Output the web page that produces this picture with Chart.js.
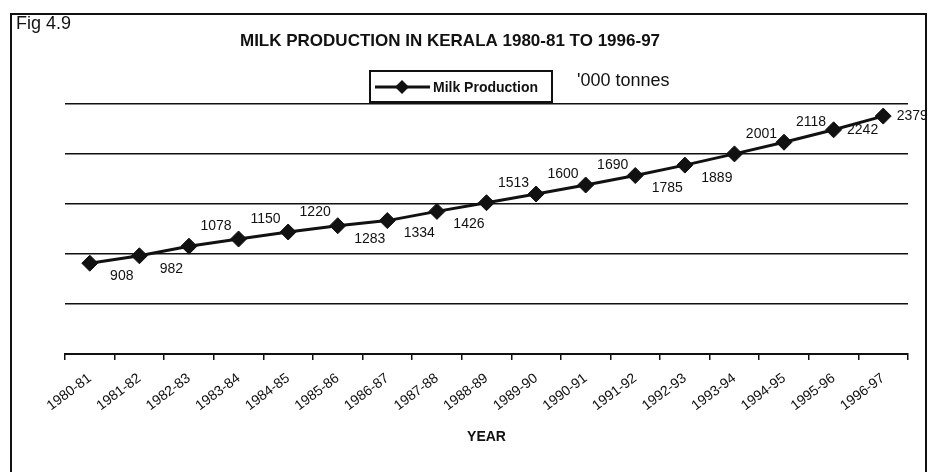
<!DOCTYPE html>
<html>
<head>
<meta charset="utf-8">
<script src="https://cdn.jsdelivr.net/npm/chart.js@4.4.1/dist/chart.umd.min.js"></script>
<style>
  html, body { margin: 0; padding: 0; background: #fff; }
  #wrap { position: relative; width: 928px; height: 472px; }
</style>
</head>
<body>
<div id="wrap"><canvas id="milk" aria-label="Milk production in Kerala chart" role="img"></canvas></div>
<script>
const YEARS = [
  '1980-81', '1981-82', '1982-83', '1983-84', '1984-85', '1985-86',
  '1986-87', '1987-88', '1988-89', '1989-90', '1990-91', '1991-92',
  '1992-93', '1993-94', '1994-95', '1995-96', '1996-97',
];
const MILK_PRODUCTION = [
  908, 982, 1078, 1150, 1220, 1283, 1334, 1426, 1513,
  1600, 1690, 1785, 1889, 2001, 2118, 2242, 2379,
];
const Y_TICKS = [0, 500, 1000, 1500, 2000, 2500];

// b = below, a = above, r = right of the marker
const LABEL_SIDE = ['b', 'b', 'a', 'a', 'a', 'b', 'b', 'b', 'a', 'a', 'a', 'b', 'b', 'a', 'a', 'r', 'r'];
const LABEL_OFFSET = { b: [32, 13], a: [27, -20], r: [29, 0] };

const FONT = "'Liberation Sans', Arial, sans-serif";
Chart.defaults.font.family = FONT;
Chart.defaults.color = '#111';

function diamond(ctx, x, y, r) {
  ctx.beginPath();
  ctx.moveTo(x - r, y);
  ctx.lineTo(x, y - r);
  ctx.lineTo(x + r, y);
  ctx.lineTo(x, y + r);
  ctx.closePath();
  ctx.fill();
}

// frame, figure number, title, legend box and unit note
const decorations = {
  id: 'decorations',
  beforeDraw(chart) {
    const { ctx } = chart;
    ctx.save();
    ctx.fillStyle = '#fff';
    ctx.fillRect(0, 0, chart.width, chart.height);
    ctx.strokeStyle = '#111';
    ctx.lineWidth = 2;
    ctx.strokeRect(11, 14, 915, 470);

    ctx.fillStyle = '#111';
    ctx.textBaseline = 'middle';
    ctx.font = `18px ${FONT}`;
    ctx.textAlign = 'left';
    ctx.fillText('Fig 4.9', 16, 24);

    ctx.font = `bold 17px ${FONT}`;
    ctx.textAlign = 'center';
    ctx.fillText('MILK PRODUCTION IN KERALA 1980-81 TO 1996-97', 450, 41);

    // legend
    ctx.lineWidth = 2;
    ctx.strokeRect(370, 71, 182, 31);
    ctx.lineWidth = 3;
    ctx.beginPath();
    ctx.moveTo(375, 87);
    ctx.lineTo(430, 87);
    ctx.stroke();
    diamond(ctx, 402, 87, 7);
    ctx.font = `bold 14px ${FONT}`;
    ctx.textAlign = 'left';
    ctx.fillText(chart.data.datasets[0].label, 433, 88);

    ctx.font = `18px ${FONT}`;
    ctx.fillText("'000 tonnes", 577, 81);
    ctx.restore();
  },
};

// value labels next to the markers
const valueLabels = {
  id: 'valueLabels',
  afterDatasetsDraw(chart) {
    const { ctx } = chart;
    const meta = chart.getDatasetMeta(0);
    ctx.save();
    ctx.font = `14px ${FONT}`;
    ctx.fillStyle = '#111';
    ctx.textAlign = 'center';
    ctx.textBaseline = 'middle';
    meta.data.forEach((pt, i) => {
      const [dx, dy] = LABEL_OFFSET[LABEL_SIDE[i]];
      ctx.fillText(String(MILK_PRODUCTION[i]), pt.x + dx, pt.y + dy);
    });
    ctx.restore();
  },
};

new Chart(document.getElementById('milk'), {
  type: 'line',
  data: {
    labels: YEARS,
    datasets: [{
      label: 'Milk Production',
      data: MILK_PRODUCTION,
      borderColor: '#111',
      borderWidth: 3,
      pointStyle: 'rectRot',
      pointRadius: 8,
      pointBackgroundColor: '#111',
      pointBorderColor: '#111',
      pointBorderWidth: 1,
      tension: 0,
    }],
  },
  options: {
    responsive: true,
    maintainAspectRatio: false,
    animation: false,
    layout: { padding: { left: 65, right: 20, top: 104, bottom: 0 } },
    plugins: {
      legend: { display: false },
      title: { display: false },
      tooltip: { enabled: false },
    },
    scales: {
      x: {
        offset: true,
        afterFit: (s) => { s.height = 118; },
        grid: {
          offset: true,
          drawOnChartArea: false,
          drawTicks: true,
          tickLength: 6,
          color: '#111',
          lineWidth: 1.5,
        },
        border: { display: true, color: '#111', width: 2 },
        ticks: {
          autoSkip: false,
          minRotation: 37,
          maxRotation: 37,
          padding: 10,
          color: '#111',
          font: { size: 14 },
        },
        title: {
          display: true,
          text: 'YEAR',
          color: '#111',
          font: { size: 14, weight: 'bold' },
          padding: { top: 4, bottom: 26 },
        },
      },
      y: {
        min: Y_TICKS[0],
        max: Y_TICKS[Y_TICKS.length - 1],
        afterFit: (s) => { s.width = 0; },
        ticks: { display: false, stepSize: Y_TICKS[1] - Y_TICKS[0] },
        border: { display: false },
        grid: { color: '#111', lineWidth: 1.5, drawTicks: false },
      },
    },
  },
  plugins: [decorations, valueLabels],
});
</script>
</body>
</html>
